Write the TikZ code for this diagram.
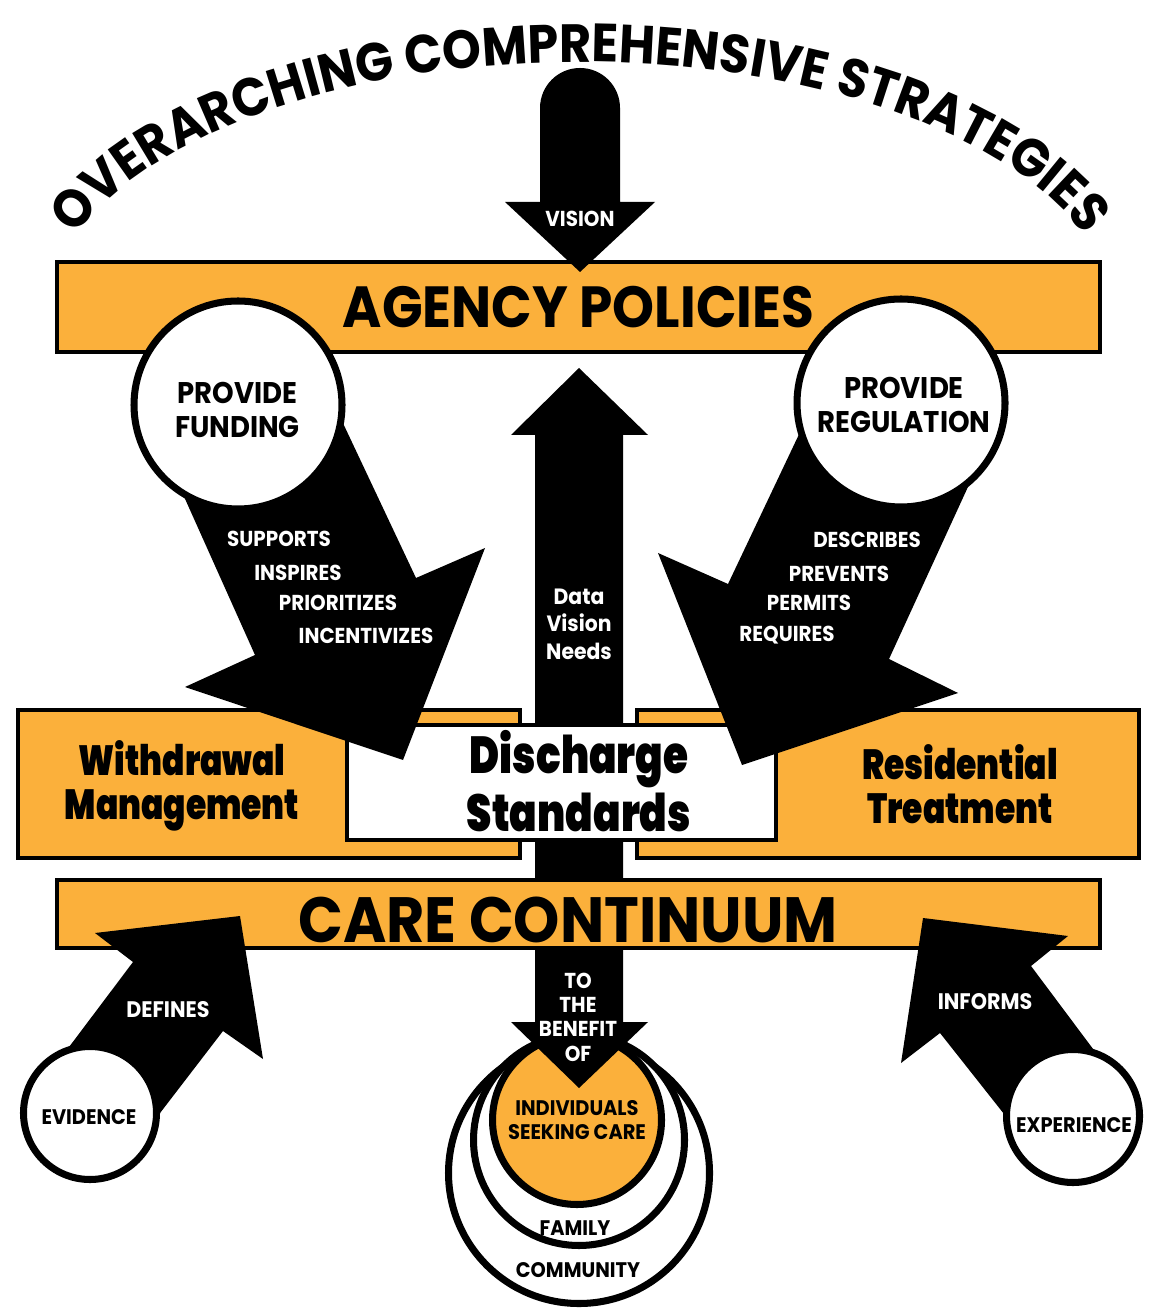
\documentclass[tikz,border=0pt]{standalone}
\usepackage{fontspec}
\newfontfamily\capsf{Poppins}[FakeStretch=0.92]
\newfontfamily\heavyf{Poppins Black}[FakeStretch=0.78]
\usetikzlibrary{decorations.text}
\definecolor{barorange}{HTML}{FBB03B}

\begin{document}
\begin{tikzpicture}[x=1cm,y=-1cm,
 bar/.style={draw,line width=.9pt,fill=barorange,inner sep=0pt},
 ring/.style={draw,circle,line width=2pt,fill=white,inner sep=0pt,align=center},
 wl/.style={text=white,align=center,font=\capsf\bfseries\fontsize{6.15}{6.9}\selectfont},
 kl/.style={align=center,font=\capsf\bfseries\fontsize{6}{6.9}\selectfont},
 hv/.style={align=center,font=\heavyf\fontsize{12}{12.6}\selectfont}]
\useasboundingbox (0,0) rectangle (11.53,13.09);
% Title bent over the top.
\path[decorate,decoration={text along path,text align=center,
  text={|\capsf\bfseries\fontsize{15.3}{16}\selectfont|OVERARCHING COMPREHENSIVE STRATEGIES}}]
  (5.80,3.22) ++(180:5.35 and 2.6) arc[start angle=180,end angle=360,x radius=5.35,y radius=2.6];
% Policy bar with the vision arrow dropping onto it.
\node[bar,minimum width=10.43cm,minimum height=.90cm,font=\capsf\bfseries\fontsize{16.5}{17}\selectfont] (agency) at (5.785,3.07) {AGENCY POLICIES};
\fill (5.40,2.02) -- (5.40,1.08) arc[start angle=180,end angle=360,radius=.40] -- (6.20,2.02) -- (6.55,2.02) -- (5.80,2.72) -- (5.05,2.02) -- cycle;
\node[wl] (vision) at (5.80,2.19) {VISION};
% The two settings of care.
\node[bar,minimum width=5.02cm,minimum height=1.48cm] (wm) at (2.69,7.84) {};
\node[bar,minimum width=5.02cm,minimum height=1.48cm] (rt) at (8.88,7.84) {};
\node[hv] (wmtext) at (1.82,7.86) {Withdrawal\\Management};
\node[hv] (rttext) at (9.60,7.84) {Residential\\Treatment};
% Community, family, individual.
\node[ring,minimum size=2.61cm] (comm) at (5.79,11.73) {};
\node[ring,minimum size=2.11cm] (fam) at (5.79,11.40) {};
\node[ring,minimum size=1.69cm,fill=barorange,kl] (indiv) at (5.77,11.20) {INDIVIDUALS\\SEEKING CARE};
\node[kl] (famlbl) at (5.75,12.28) {FAMILY};
\node[kl] (commlbl) at (5.78,12.70) {COMMUNITY};
% Spine: up to the policies, down to the people.
\fill (5.79,3.68) -- (6.48,4.35) -- (6.23,4.35) -- (6.23,10.22) -- (6.48,10.22) -- (5.79,10.88)
  -- (5.11,10.22) -- (5.35,10.22) -- (5.35,4.35) -- (5.11,4.35) -- cycle;
\node[wl,font=\capsf\bfseries\fontsize{6.3}{7.8}\selectfont] (dvn) at (5.79,6.24) {Data\\Vision\\Needs};
\node[wl] (benefit) at (5.78,10.17) {TO\\THE\\BENEFIT\\OF};
\node[draw,line width=.9pt,fill=white,minimum width=4.29cm,minimum height=1.15cm] (ds) at (5.615,7.825) {};
\node[hv,font=\heavyf\fontsize{14.8}{16.4}\selectfont] (dstext) at (5.79,7.81) {Discharge\\Standards};
\node[bar,minimum width=10.43cm,minimum height=.68cm] (care) at (5.785,9.14) {};
\node[font=\capsf\bfseries\fontsize{18.2}{18}\selectfont,inner sep=0pt] (caretext) at (5.68,9.20) {CARE CONTINUUM};
% Funding.
\fill (3.33,4.02) -- (4.16,5.78) -- (4.85,5.48) -- (4.03,7.60) -- (1.85,6.87) -- (2.55,6.55) -- (1.73,4.72) -- cycle;
\node[ring,minimum size=2.08cm] (fund) at (2.38,4.05) {};
\node[align=center,font=\capsf\bfseries\fontsize{8.5}{9.7}\selectfont] (fundtext) at (2.375,4.10) {PROVIDE\\FUNDING};
\node[wl] (sup) at (2.79,5.39) {SUPPORTS};
\node[wl] (insp) at (2.98,5.73) {INSPIRES};
\node[wl] (prio) at (3.38,6.03) {PRIORITIZES};
\node[wl] (inc) at (3.66,6.36) {INCENTIVIZES};
% Regulation.
\fill (8.11,4.09) -- (7.28,5.84) -- (6.58,5.53) -- (7.42,7.65) -- (9.58,6.93) -- (8.89,6.59) -- (9.78,4.65) -- cycle;
\node[ring,minimum size=2.08cm] (reg) at (9.01,4.03) {};
\node[align=center,font=\capsf\bfseries\fontsize{8.5}{9.7}\selectfont] (regtext) at (9.04,4.05) {PROVIDE\\REGULATION};
\node[wl] (desc) at (8.67,5.40) {DESCRIBES};
\node[wl] (prev) at (8.39,5.74) {PREVENTS};
\node[wl] (perm) at (8.09,6.03) {PERMITS};
\node[wl] (req) at (7.87,6.35) {REQUIRES};
% Evidence and experience feeding the continuum.
\fill (0.57,10.63) -- (1.33,9.62) -- (0.95,9.33) -- (2.40,9.16) -- (2.63,10.59) -- (2.23,10.31) -- (1.47,11.30) -- cycle;
\node[ring,minimum size=1.33cm] (evid) at (0.90,11.13) {};
\node[kl] (evidtext) at (0.89,11.17) {EVIDENCE};
\node[wl,font=\capsf\bfseries\fontsize{6.4}{6.9}\selectfont] (defines) at (1.68,10.10) {DEFINES};
\fill (9.23,9.18) -- (10.68,9.36) -- (10.31,9.66) -- (11.05,10.65) -- (10.19,11.33) -- (9.40,10.33) -- (9.01,10.63) -- cycle;
\node[ring,minimum size=1.33cm] (exper) at (10.73,11.16) {};
\node[kl] (expertext) at (10.74,11.25) {EXPERIENCE};
\node[wl,font=\capsf\bfseries\fontsize{6.4}{6.9}\selectfont] (informs) at (9.85,10.02) {INFORMS};
\end{tikzpicture}
\end{document}
